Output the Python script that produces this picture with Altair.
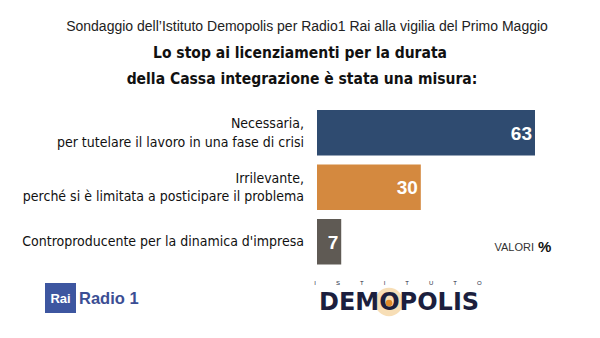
import altair as alt
import pandas as pd

# ---- data ----
categories = [
    "Necessaria,\nper tutelare il lavoro in una fase di crisi",
    "Irrilevante,\nperché si è limitata a posticipare il problema",
    "Controproducente per la dinamica d'impresa",
]
values = [63, 30, 7]
bar_colors = ["#2f4b70", "#d4893f", "#5f5a54"]

subtitle_text = "Sondaggio dell’Istituto Demopolis per Radio1 Rai alla vigilia del Primo Maggio"
title_lines = ["Lo stop ai licenziamenti per la durata", "della Cassa integrazione è stata una misura:"]

NARROW = "DejaVu Sans Condensed"
SANS = "Liberation Sans, Arial, Helvetica, sans-serif"

df = pd.DataFrame({"cat": categories, "val": values})

yenc = alt.Y("cat:N", sort=None, axis=None,
             scale=alt.Scale(domain=categories, paddingInner=0.165, paddingOuter=0.183))
xenc = alt.X("val:Q", axis=None, scale=alt.Scale(domain=[0, 63], nice=False, zero=True))

base = alt.Chart(df)

bars = base.mark_bar().encode(
    y=yenc, x=xenc,
    color=alt.Color("cat:N", scale=alt.Scale(domain=categories, range=bar_colors), legend=None),
)

vals = base.mark_text(align="right", baseline="middle", dx=-3, dy=1, color="white",
                      font=SANS, fontWeight="bold", fontSize=19).encode(
    y=yenc, x=xenc, text="val:Q")

labels_multi = base.transform_filter("indexof(datum.cat, '\\n') >= 0").mark_text(
    align="right", baseline="middle", lineBreak="\n", lineHeight=18.5, dy=-8.5,
    font=NARROW, fontSize=14, color="#111111").encode(
    y=yenc, x=alt.value(-13), text="cat:N")

labels_single = base.transform_filter("indexof(datum.cat, '\\n') < 0").mark_text(
    align="right", baseline="middle", dy=0,
    font=NARROW, fontSize=14, color="#111111").encode(
    y=yenc, x=alt.value(-13), text="cat:N")


def txt(s, x, y, **kw):
    return alt.Chart(pd.DataFrame({"t": [s]})).mark_text(**kw).encode(
        text="t:N", x=alt.value(x), y=alt.value(y))


sub = txt(subtitle_text, -10, -73, align="center", baseline="middle", font=SANS,
          fontSize=14, color="#222222")
t1 = txt(title_lines[0], -17, -47, align="center", baseline="middle", font=NARROW,
         fontSize=15.5, fontWeight="bold", color="#111111")
t2 = txt(title_lines[1], -15, -21, align="center", baseline="middle", font=NARROW,
         fontSize=15.5, fontWeight="bold", color="#111111")

valori = txt("VALORI", 217, 148, align="right", baseline="middle", font=SANS,
             fontSize=11, color="#333333")
pct = txt("%", 221, 147, align="left", baseline="middle", font=SANS,
          fontSize=15, fontWeight="bold", color="#111111")

# Rai Radio 1 logo
rai_box = alt.Chart(pd.DataFrame({"a": [1]})).mark_rect(color="#3d56a0").encode(
    x=alt.value(-272), x2=alt.value(-241), y=alt.value(183), y2=alt.value(213))
rai_txt = txt("Rai", -256.5, 199, align="center", baseline="middle", font=SANS,
              fontSize=13, fontWeight="bold", color="white")
radio_txt = txt("Radio 1", -238, 199, align="left", baseline="middle", font=SANS,
                fontSize=16.5, fontWeight="bold", color="#3b4e94")

# Demopolis logo
gap = "\u00a0" * 12
glow = alt.Chart(pd.DataFrame({"a": [1]})).mark_circle(color="#f0c27a", opacity=0.55).encode(
    x=alt.value(72), y=alt.value(202), size=alt.value(800))
istituto = txt(gap.join(list("ISTITUTO")), 81, 183, align="center", baseline="middle",
               font=SANS, fontSize=6, color="#1c1f3e")
demo = txt("DEMOPOLIS", 2, 203, align="left", baseline="middle", font="DejaVu Sans",
           fontSize=24, fontWeight="bold", color="#1c1f3e")
dot = alt.Chart(pd.DataFrame({"a": [1]})).mark_circle(color="#e08a2a", opacity=1).encode(
    x=alt.value(72), y=alt.value(203), size=alt.value(45))

chart = alt.layer(
    bars, vals, labels_multi, labels_single, sub, t1, t2, valori, pct,
    rai_box, rai_txt, radio_txt, glow, istituto, demo, dot,
).properties(
    width=218, height=174.5,
    padding={"left": 317, "top": 100, "right": 65, "bottom": 63.5},
    autosize="none",
    background="white",
).configure_view(stroke=None)

chart.save("out.html", embed_options={"renderer": "svg", "actions": False})
